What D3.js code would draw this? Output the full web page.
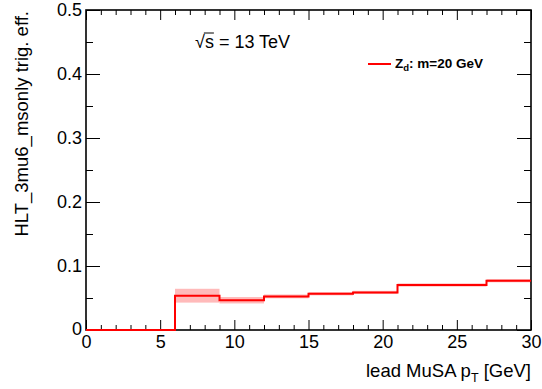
<!DOCTYPE html>
<html>
<head>
<meta charset="utf-8">
<script src="https://cdn.jsdelivr.net/npm/d3@7"></script>
<style>
  body { margin: 0; background: #fff; }
  svg { font-family: "Liberation Sans", Arial, sans-serif; }
</style>
</head>
<body>
<svg id="chart" width="542" height="389"></svg>
<script>
// histogram bins (lead MuSA pT, GeV)
var binEdges = [0, 3, 6, 9, 12, 15, 18, 21, 24, 27, 30];
var effValues = [0, 0, 0.0536, 0.0465, 0.0525, 0.0566, 0.0587, 0.0703, 0.0703, 0.0770];
var effErrors = [0, 0, 0.0108, 0.0050, 0.0030, 0.0025, 0.0025, 0.0025, 0.0025, 0.0025];
var xMajorTicks = [0, 5, 10, 15, 20, 25, 30];
var yMajorTicks = [0, 0.1, 0.2, 0.3, 0.4, 0.5];
var legendLabel = "m=20 GeV";

var svg = d3.select("#chart");
var padLeft = 86, padRight = 531, padTop = 10, padBottom = 330;

var x = d3.scaleLinear().domain([0, 30]).range([padLeft, padRight]);
var y = d3.scaleLinear().domain([0, 0.5]).range([padBottom, padTop]);

var xMinor = d3.range(0, 31, 1).filter(function(d) { return d % 5 != 0; });
var yMinor = [0.05, 0.15, 0.25, 0.35, 0.45];

// error band
var bins = effValues.map(function(v, i) {
    return { x0: binEdges[i], x1: binEdges[i + 1], v: v, e: effErrors[i] };
});
svg.append("g").selectAll("rect")
    .data(bins.filter(function(d) { return d.e > 0; }))
    .enter().append("rect")
    .attr("x", function(d) { return x(d.x0); })
    .attr("width", function(d) { return x(d.x1) - x(d.x0); })
    .attr("y", function(d) { return y(d.v + d.e); })
    .attr("height", function(d) { return y(d.v - d.e) - y(d.v + d.e); })
    .attr("fill", "#ffbaba");

// axes (ticks drawn inside the frame, ROOT style)
function styleAxis(g) {
    g.select(".domain").remove();
    g.selectAll("line").attr("stroke", "#000").attr("stroke-width", 1);
    g.selectAll("text").attr("fill", "#000").attr("font-size", "18px")
        .attr("font-family", "Liberation Sans, Arial, sans-serif");
}

svg.append("g").attr("transform", "translate(0," + padBottom + ")")
    .call(d3.axisBottom(x).tickValues(xMajorTicks).tickSize(-10).tickPadding(5)
        .tickFormat(d3.format("d")))
    .call(styleAxis);
svg.append("g").attr("transform", "translate(0," + padBottom + ")")
    .call(d3.axisBottom(x).tickValues(xMinor).tickSize(-5).tickFormat(""))
    .call(styleAxis);
svg.append("g").attr("transform", "translate(0," + padTop + ")")
    .call(d3.axisTop(x).tickValues(xMajorTicks).tickSize(-10).tickFormat(""))
    .call(styleAxis);
svg.append("g").attr("transform", "translate(0," + padTop + ")")
    .call(d3.axisTop(x).tickValues(xMinor).tickSize(-5).tickFormat(""))
    .call(styleAxis);

var yAxisG = svg.append("g").attr("transform", "translate(" + padLeft + ",0)")
    .call(d3.axisLeft(y).tickValues(yMajorTicks).tickSize(-14).tickPadding(4)
        .tickFormat(function(d) { return d === 0 ? "0" : d3.format(".1f")(d); }))
    .call(styleAxis);
// ROOT puts the y "0" slightly above the corner
yAxisG.selectAll("text").filter(function(d) { return d === 0; }).attr("dy", "0.25em");

svg.append("g").attr("transform", "translate(" + padLeft + ",0)")
    .call(d3.axisLeft(y).tickValues(yMinor).tickSize(-7).tickFormat(""))
    .call(styleAxis);
svg.append("g").attr("transform", "translate(" + padRight + ",0)")
    .call(d3.axisRight(y).tickValues(yMajorTicks).tickSize(-14).tickFormat(""))
    .call(styleAxis);
svg.append("g").attr("transform", "translate(" + padRight + ",0)")
    .call(d3.axisRight(y).tickValues(yMinor).tickSize(-7).tickFormat(""))
    .call(styleAxis);

// frame
svg.append("rect")
    .attr("x", padLeft).attr("y", padTop)
    .attr("width", padRight - padLeft).attr("height", padBottom - padTop)
    .attr("fill", "none").attr("stroke", "#000").attr("stroke-width", 1.6);

// histogram line
var pts = bins.map(function(d) { return [d.x0, d.v]; });
pts.push([30, effValues[effValues.length - 1]]);
var line = d3.line()
    .x(function(d) { return x(d[0]); })
    .y(function(d) { return y(d[1]); })
    .curve(d3.curveStepAfter);
svg.append("path")
    .attr("d", line(pts))
    .attr("fill", "none")
    .attr("stroke", "#ff0000")
    .attr("stroke-width", 2);

// axis titles
var xt = svg.append("text")
    .attr("x", padRight).attr("y", 377)
    .attr("text-anchor", "end")
    .attr("font-size", "18.5px");
xt.append("tspan").text("lead MuSA p");
xt.append("tspan").attr("font-size", "12.5px").attr("dy", 5).text("T");
xt.append("tspan").attr("dy", -5).text(" [GeV]");

svg.append("text")
    .attr("transform", "translate(28,11) rotate(-90)")
    .attr("text-anchor", "end")
    .attr("font-size", "18.5px")
    .text("HLT_3mu6_msonly trig. eff.");

// sqrt(s) label
var st = svg.append("text")
    .attr("x", 195).attr("y", 48)
    .attr("font-size", "18px");
st.append("tspan").text("\u221A");
st.append("tspan").text("s");
st.append("tspan").text(" = 13 TeV");
var sqrtW = st.node().getSubStringLength(0, 1);
var sW = st.node().getSubStringLength(1, 1);
svg.append("line")
    .attr("x1", 195 + sqrtW - 1).attr("x2", 195 + sqrtW + sW)
    .attr("y1", 48 - 15).attr("y2", 48 - 15)
    .attr("stroke", "#000").attr("stroke-width", 1);

// legend
svg.append("line")
    .attr("x1", 368).attr("x2", 391)
    .attr("y1", 64).attr("y2", 64)
    .attr("stroke", "#ff0000").attr("stroke-width", 2);
var lt = svg.append("text")
    .attr("x", 395).attr("y", 68)
    .attr("font-size", "13.5px").attr("font-weight", "bold");
lt.append("tspan").text("Z");
lt.append("tspan").attr("font-size", "9.5px").attr("dy", 3).text("d");
lt.append("tspan").attr("dy", -3).text(": " + legendLabel);
</script>
</body>
</html>
